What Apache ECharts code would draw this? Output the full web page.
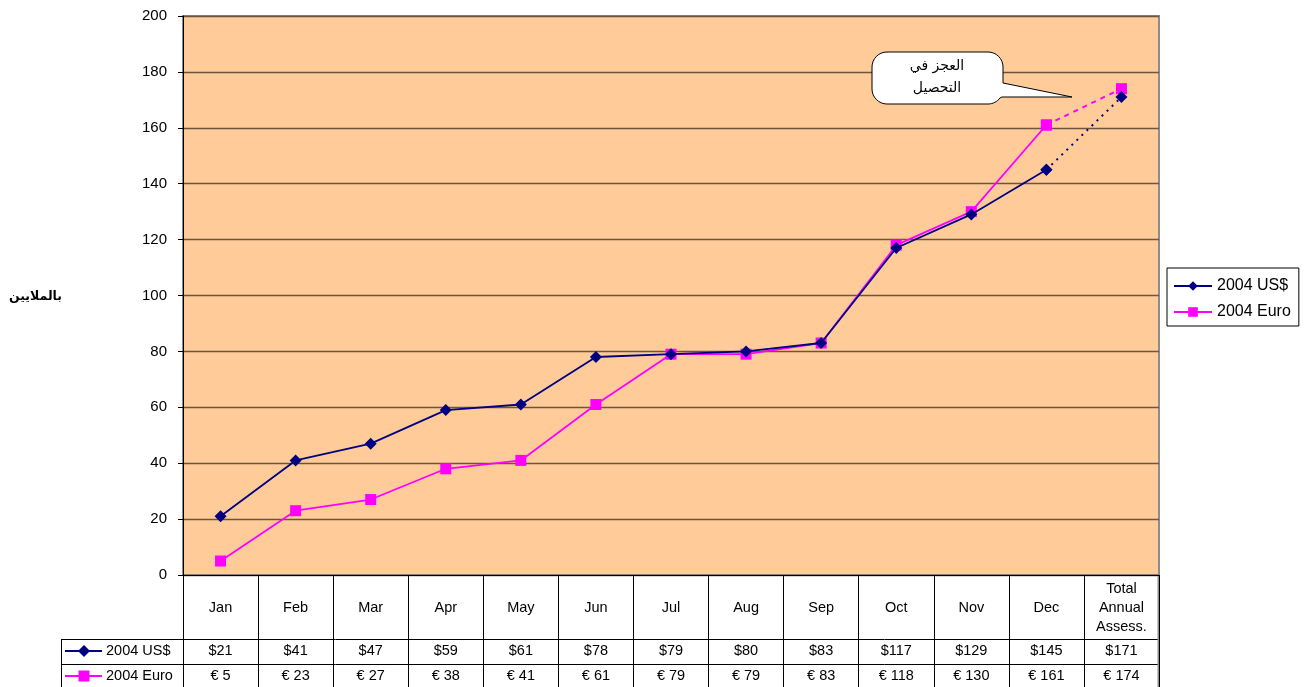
<!DOCTYPE html>
<html>
<head>
<meta charset="utf-8">
<script src="https://cdn.jsdelivr.net/npm/echarts@6/dist/echarts.min.js"></script>
<style>
html,body{margin:0;padding:0;background:#fff;}
#c{width:1316px;height:687px;}
</style>
</head>
<body>
<div id="c"></div>
<script>
const categories = ['Jan','Feb','Mar','Apr','May','Jun','Jul','Aug','Sep','Oct','Nov','Dec','Total\nAnnual\nAssess.'];
const usdValues = [21,41,47,59,61,78,79,80,83,117,129,145,171];
const euroValues = [5,23,27,38,41,61,79,79,83,118,130,161,174];
const usdLabels = ['$21','$41','$47','$59','$61','$78','$79','$80','$83','$117','$129','$145','$171'];
const euroLabels = ['€ 5','€ 23','€ 27','€ 38','€ 41','€ 61','€ 79','€ 79','€ 83','€ 118','€ 130','€ 161','€ 174'];
const yTicks = [0,20,40,60,80,100,120,140,160,180,200];
const seriesNames = ['2004 US$','2004 Euro'];
const yAxisTitle = 'بالملايين';
const calloutLines = ['العجز في','التحصيل'];

const last = categories.length - 1;
const solid = arr => arr.map((v,i) => i < last ? v : '-');
const gap = arr => arr.map((v,i) => i >= last - 1 ? v : '-');

const NAVY = '#000080', MAG = '#FF00FF';
const FONT = 'Liberation Sans, Arial, sans-serif';
const TFONT = '14.5px ' + FONT;

const chart = echarts.init(document.getElementById('c'), null, {renderer:'canvas'});
chart.setOption({
  animation:false,
  textStyle:{fontFamily:FONT},
  grid:{left:183, right:157, top:16, bottom:112, show:true, backgroundColor:'#FFCC99', borderColor:'#8c8c8c', borderWidth:2},
  legend:{
    data:seriesNames, orient:'vertical', left:1167, top:268,
    borderColor:'#000', borderWidth:1, padding:[10,8,6,6],
    itemWidth:38, itemHeight:12, itemGap:10,
    textStyle:{fontSize:16, color:'#000', fontFamily:FONT}
  },
  xAxis:{
    type:'category', data:categories, boundaryGap:true,
    axisLine:{lineStyle:{color:'#000', width:1}},
    axisTick:{show:true, interval:0, length:112, lineStyle:{color:'#000', width:1}},
    axisLabel:{interval:0, margin:33, verticalAlign:'middle', color:'#000', fontSize:14.5, lineHeight:19, fontFamily:FONT}
  },
  yAxis:{
    type:'value', min:yTicks[0], max:yTicks[yTicks.length-1], interval:20,
    axisLine:{show:true, lineStyle:{color:'#000', width:1}},
    axisTick:{show:true, length:5, lineStyle:{color:'#000'}},
    axisLabel:{margin:16, color:'#000', fontSize:15, fontFamily:FONT},
    splitLine:{lineStyle:{color:'#6a5542', width:1.3}}
  },
  series:[
    {name:seriesNames[0], type:'line', data:solid(usdValues), symbol:'diamond', symbolSize:12,
     itemStyle:{color:NAVY}, lineStyle:{color:NAVY, width:1.8}, z:3},
    {name:seriesNames[1], type:'line', data:solid(euroValues), symbol:'rect', symbolSize:11,
     itemStyle:{color:MAG}, lineStyle:{color:MAG, width:1.8}, z:2},
    {name:'usd-gap', type:'line', data:gap(usdValues), symbol:'diamond', symbolSize:12,
     itemStyle:{color:NAVY}, lineStyle:{color:NAVY, width:2, type:[2,5]}, z:3},
    {name:'euro-gap', type:'line', data:gap(euroValues), symbol:'rect', symbolSize:11,
     itemStyle:{color:MAG}, lineStyle:{color:MAG, width:2, type:[5,5]}, z:2}
  ]
});

function roundedCallout(x0, y0, x1, y1, r, tail){
  const pts = [];
  const arc = (cx, cy, a0, a1) => {
    for (let k = 0; k <= 8; k++) {
      const a = a0 + (a1 - a0) * k / 8;
      pts.push([cx + r * Math.cos(a), cy + r * Math.sin(a)]);
    }
  };
  const P = Math.PI;
  arc(x0 + r, y0 + r, P, 1.5 * P);
  arc(x1 - r, y0 + r, 1.5 * P, 2 * P);
  pts.push([x1, tail[0][1]]);
  pts.push(tail[1]);
  pts.push(tail[2]);
  arc(x1 - r, y1 - r, 0.2 * P, 0.5 * P);
  arc(x0 + r, y1 - r, 0.5 * P, P);
  return pts;
}

function drawExtras(){
  const g = [];
  const row1 = 651, row2 = 676;
  categories.forEach((c,i) => {
    const x = chart.convertToPixel({xAxisIndex:0}, i);
    g.push({type:'text', x:x, y:row1, style:{text:usdLabels[i], textAlign:'center', textVerticalAlign:'middle', fill:'#000', font:TFONT}});
    g.push({type:'text', x:x, y:row2, style:{text:euroLabels[i], textAlign:'center', textVerticalAlign:'middle', fill:'#000', font:TFONT}});
  });
  const lineStyle = {stroke:'#000', lineWidth:1};
  g.push({type:'line', shape:{x1:61, y1:639.5, x2:1159, y2:639.5}, style:lineStyle});
  g.push({type:'line', shape:{x1:61, y1:664.5, x2:1159, y2:664.5}, style:lineStyle});
  g.push({type:'line', shape:{x1:61.5, y1:639, x2:61.5, y2:687}, style:lineStyle});
  g.push({type:'line', shape:{x1:1158.5, y1:575, x2:1158.5, y2:687}, style:{stroke:'#8c8c8c', lineWidth:2}});
  g.push({type:'line', shape:{x1:65, y1:row1, x2:102, y2:row1}, style:{stroke:NAVY, lineWidth:1.8}});
  g.push({type:'polygon', shape:{points:[[84,row1-6],[90,row1],[84,row1+6],[78,row1]]}, style:{fill:NAVY}});
  g.push({type:'text', x:106, y:row1, style:{text:seriesNames[0], textVerticalAlign:'middle', fill:'#000', font:TFONT}});
  g.push({type:'line', shape:{x1:65, y1:row2, x2:102, y2:row2}, style:{stroke:MAG, lineWidth:1.8}});
  g.push({type:'rect', shape:{x:78.5, y:row2-5.5, width:11, height:11}, style:{fill:MAG}});
  g.push({type:'text', x:106, y:row2, style:{text:seriesNames[1], textVerticalAlign:'middle', fill:'#000', font:TFONT}});
  g.push({type:'text', x:9, y:297, style:{text:yAxisTitle, textVerticalAlign:'middle', fill:'#000', font:'bold 12.5px DejaVu Sans, sans-serif'}});
  const pts = roundedCallout(872, 52, 1003, 104, 15, [[1003,83],[1072,97],[1002,97]]);
  g.push({type:'polygon', shape:{points:pts}, style:{fill:'#fff', stroke:'#000', lineWidth:1}, z:100});
  g.push({type:'text', x:937, y:66, style:{text:calloutLines[0], textAlign:'center', textVerticalAlign:'middle', fill:'#000', font:'14px DejaVu Sans, sans-serif'}, z:101});
  g.push({type:'text', x:937, y:88, style:{text:calloutLines[1], textAlign:'center', textVerticalAlign:'middle', fill:'#000', font:'14px DejaVu Sans, sans-serif'}, z:101});
  chart.setOption({graphic:{elements:g}});
}
drawExtras();
</script>
</body>
</html>
